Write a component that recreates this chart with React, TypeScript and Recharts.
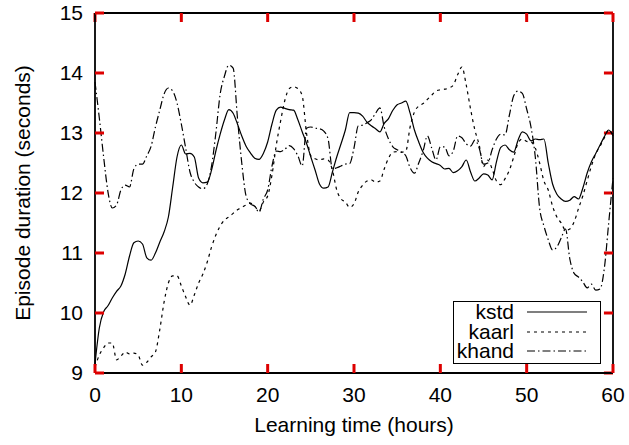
import React from 'react';
import { LineChart, Line, XAxis, YAxis, Legend, ReferenceLine } from 'recharts';

// learning time grid (hours)
const hours = [
  0, 0.5, 1, 1.5, 2, 2.5, 3, 3.5, 4, 4.5, 5, 5.5, 6, 6.5, 7, 7.5, 8, 8.5, 9, 9.5,
  10, 10.5, 11, 11.5, 12, 12.5, 13, 13.5, 14, 14.5, 15, 15.5, 16, 16.5, 17, 17.5, 18, 18.5, 19, 19.5,
  20, 20.5, 21, 21.5, 22, 22.5, 23, 23.5, 24, 24.5, 25, 25.5, 26, 26.5, 27, 27.5, 28, 28.5, 29, 29.5,
  30, 30.5, 31, 31.5, 32, 32.5, 33, 33.5, 34, 34.5, 35, 35.5, 36, 36.5, 37, 37.5, 38, 38.5, 39, 39.5,
  40, 40.5, 41, 41.5, 42, 42.5, 43, 43.5, 44, 44.5, 45, 45.5, 46, 46.5, 47, 47.5, 48, 48.5, 49, 49.5,
  50, 50.5, 51, 51.5, 52, 52.5, 53, 53.5, 54, 54.5, 55, 55.5, 56, 56.5, 57, 57.5, 58, 58.5, 59, 59.5,
  60,
];

const kstd = [
  9.15, 9.75, 10.02, 10.12, 10.25, 10.36, 10.45, 10.65, 10.95, 11.17,
  11.2, 11.15, 10.92, 10.88, 11.0, 11.18, 11.35, 11.6, 12.1, 12.6,
  12.8, 12.65, 12.66, 12.6, 12.25, 12.17, 12.18, 12.38, 12.7, 12.98,
  13.22, 13.39, 13.33, 13.15, 12.95, 12.78, 12.67, 12.58, 12.56, 12.66,
  12.85, 13.15, 13.38, 13.43, 13.41, 13.39, 13.38, 13.22, 13.02, 12.83,
  12.6, 12.38, 12.15, 12.08, 12.1, 12.35, 12.6, 12.82, 13.05, 13.34,
  13.34, 13.33, 13.28, 13.18, 13.12, 13.07, 13.02, 13.16, 13.24, 13.38,
  13.47, 13.5, 13.53, 13.33, 13.05, 12.85, 12.68, 12.58, 12.52, 12.49,
  12.46, 12.4, 12.41, 12.34, 12.37, 12.44, 12.55, 12.35, 12.2, 12.25,
  12.32, 12.3, 12.22, 12.52, 12.76, 12.8, 12.72, 12.68, 12.88, 13.02,
  12.98, 12.87, 12.9, 12.89, 12.9, 12.5, 12.15, 11.98, 11.9, 11.86,
  11.88, 11.94, 11.9, 12.08, 12.33, 12.52, 12.66, 12.8, 12.94, 13.05,
  12.95,
];

const kaarl = [
  9.1, 9.3, 9.42, 9.5, 9.5, 9.22, 9.28, 9.35, 9.32, 9.33,
  9.3, 9.13, 9.18, 9.27, 9.35, 9.72, 10.18, 10.5, 10.62, 10.62,
  10.45, 10.27, 10.13, 10.3, 10.5, 10.65, 10.85, 11.1, 11.3, 11.45,
  11.55, 11.6, 11.66, 11.72, 11.76, 11.8, 11.83, 11.78, 11.7, 11.85,
  11.95, 12.3, 12.8, 13.2, 13.55, 13.74, 13.77, 13.74, 13.62, 13.0,
  12.62, 12.57, 12.55, 12.57, 12.55, 12.38, 12.05, 11.9, 11.85, 11.76,
  11.82, 12.02, 12.13, 12.2, 12.22, 12.18, 12.2, 12.4, 12.58, 12.68,
  12.69, 12.68, 12.7, 13.1, 13.35, 13.45, 13.49, 13.56, 13.63, 13.7,
  13.72, 13.73, 13.75, 13.8, 13.97, 14.1, 13.8, 13.4, 13.05, 12.8,
  12.44, 12.55, 12.4, 12.2, 12.14, 12.24, 12.38, 12.6, 12.83, 12.9,
  12.86, 12.85, 12.75, 12.5, 12.2, 12.05, 11.78, 11.6, 11.5, 11.38,
  11.4, 11.52, 11.74, 11.95, 12.2, 12.45, 12.65, 12.78, 12.92, 13.05,
  12.98,
];

const khand = [
  13.85, 13.25, 12.6, 12.02, 11.75, 11.8, 12.05, 12.13, 12.1, 12.4,
  12.48, 12.48, 12.62, 12.78, 13.1, 13.38, 13.65, 13.75, 13.7, 13.5,
  13.15, 12.75, 12.35, 12.18, 12.1, 12.07, 12.15, 12.45, 13.0, 13.65,
  13.95, 14.13, 14.08, 13.25, 12.5, 11.95, 11.82, 11.78, 11.68, 11.9,
  12.05, 12.45, 12.7, 12.69, 12.73, 12.79, 12.74, 12.62, 12.45, 13.08,
  13.1, 13.08, 13.07, 13.03, 12.9, 12.4, 12.42, 12.45, 12.48, 12.49,
  12.75, 13.12, 13.13, 13.17, 13.22, 13.33, 13.42, 13.1, 12.9, 12.77,
  12.72, 12.68, 12.62, 12.42, 12.33, 12.5, 12.7, 12.95, 12.75, 12.55,
  12.77, 12.77, 12.62, 12.7, 12.95, 12.92, 12.82, 12.78, 12.88, 12.75,
  12.48, 12.5, 12.72, 12.9, 12.98, 12.97, 13.3, 13.62, 13.7, 13.66,
  13.4, 13.1, 12.6, 11.75, 11.45, 11.22, 11.05, 11.1, 11.25, 11.4,
  10.9, 10.66, 10.6, 10.52, 10.42, 10.48, 10.38, 10.4, 10.75, 11.5,
  12.25,
];

const xTicks = [0, 10, 20, 30, 40, 50, 60];
const yTicks = [9, 10, 11, 12, 13, 14, 15];

const seriesNames = ['kstd', 'kaarl', 'khand'];
const dashes: Record<string, string | undefined> = {
  kstd: undefined,
  kaarl: '3 4',
  khand: '8 3 1.5 3',
};

const data = hours.map((h, i) => ({
  hours: h,
  kstd: kstd[i],
  kaarl: kaarl[i],
  khand: khand[i],
}));

const FONT = "'Liberation Sans', Arial, Helvetica, sans-serif";
const FONT_SIZE = 21;
const TICK_LEN = 9;
const TICK_COLOR = '#d00';
const TICK_W = 3;
const X_LABEL_GAP = 14;
const Y_LABEL_GAP = 12;
// same inward tick length in axis units, for the top and right edges
const TICK_H = 1.05;
const TICK_V = 0.15;
const FRAME_W = 1.8;

const BottomTick = (props: any) => {
  const axisY = props.y - X_LABEL_GAP;
  return (
    <g>
      <line x1={props.x} x2={props.x} y1={axisY} y2={axisY - TICK_LEN} stroke={TICK_COLOR} strokeWidth={TICK_W} />
      <text x={props.x} y={props.y} dy="0.71em" textAnchor="middle" fontFamily={FONT} fontSize={FONT_SIZE} fill="#000">
        {props.payload.value}
      </text>
    </g>
  );
};

const LeftTick = (props: any) => {
  const axisX = props.x + Y_LABEL_GAP;
  return (
    <g>
      <line x1={axisX} x2={axisX + TICK_LEN} y1={props.y} y2={props.y} stroke={TICK_COLOR} strokeWidth={TICK_W} />
      <text x={props.x} y={props.y} dy="0.355em" textAnchor="end" fontFamily={FONT} fontSize={FONT_SIZE} fill="#000">
        {props.payload.value}
      </text>
    </g>
  );
};

// gnuplot-like key: label right aligned, line sample after it
const GnuLegend = () => (
  <div
    style={{
      width: 148,
      height: 63,
      boxSizing: 'border-box',
      border: '1.5px solid #000',
      background: '#fff',
      fontFamily: FONT,
      fontSize: FONT_SIZE,
      color: '#000',
    }}
  >
    {seriesNames.map((name) => (
      <div key={name} style={{ display: 'flex', alignItems: 'center', height: 19.5, lineHeight: '19.5px' }}>
        <span style={{ width: 60, textAlign: 'right' }}>{name}</span>
        <svg width={60} height={19.5} style={{ marginLeft: 13 }}>
          <line x1={0} x2={60} y1={10} y2={10} stroke="#000" strokeWidth={1.2} strokeDasharray={dashes[name]} />
        </svg>
      </div>
    ))}
  </div>
);

export default function App() {
  return (
    <div style={{ position: 'absolute', left: 0, top: 0, background: '#fff' }}>
      <LineChart width={629} height={445} data={data} margin={{ top: 13, right: 16, bottom: 0, left: 0 }}>
        <XAxis
          dataKey="hours"
          type="number"
          domain={[0, 60]}
          ticks={xTicks}
          height={72}
          tickLine={false}
          tickSize={0}
          tickMargin={X_LABEL_GAP}
          stroke="#000"
          strokeWidth={FRAME_W}
          tick={<BottomTick />}
        />
        <YAxis
          type="number"
          domain={[9, 15]}
          ticks={yTicks}
          width={95}
          tickLine={false}
          tickSize={0}
          tickMargin={Y_LABEL_GAP}
          stroke="#000"
          strokeWidth={FRAME_W}
          tick={<LeftTick />}
        />
        {/* top and right frame with their inward ticks */}
        <ReferenceLine y={15} stroke="#000" strokeWidth={FRAME_W} />
        <ReferenceLine x={60} stroke="#000" strokeWidth={FRAME_W} />
        {xTicks.map((t) => (
          <ReferenceLine key={`xt${t}`} segment={[{ x: t, y: 15 }, { x: t, y: 15 - TICK_V }]} stroke={TICK_COLOR} strokeWidth={TICK_W} />
        ))}
        {yTicks.map((t) => (
          <ReferenceLine key={`yr${t}`} segment={[{ x: 60, y: t }, { x: 60 - TICK_H, y: t }]} stroke={TICK_COLOR} strokeWidth={TICK_W} />
        ))}
        <Legend
          layout="vertical"
          align="center"
          verticalAlign="middle"
          wrapperStyle={{ left: 453, top: 301, width: 148, height: 63 }}
          content={<GnuLegend />}
        />
        {seriesNames.map((name) => (
          <Line
            key={name}
            dataKey={name}
            name={name}
            type="monotone"
            stroke="#000"
            strokeWidth={1.2}
            strokeDasharray={dashes[name]}
            dot={false}
            activeDot={false}
            isAnimationActive={false}
          />
        ))}
        <text x={354} y={432} textAnchor="middle" fontFamily={FONT} fontSize={FONT_SIZE} fill="#000">
          Learning time (hours)
        </text>
        <text
          x={29.5}
          y={193}
          transform="rotate(-90 29.5 193)"
          textAnchor="middle"
          fontFamily={FONT}
          fontSize={FONT_SIZE}
          fill="#000"
        >
          Episode duration (seconds)
        </text>
      </LineChart>
    </div>
  );
}
